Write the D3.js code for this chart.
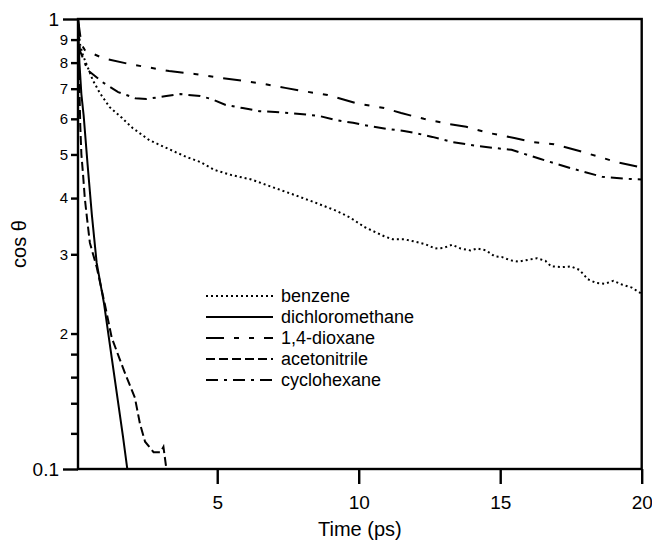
<!DOCTYPE html>
<html>
<head>
<meta charset="utf-8">
<script src="https://cdn.jsdelivr.net/npm/d3@7"></script>
<style>
	body { margin: 0; background: #fff; }
	text { font-family: Arial, "Liberation Sans", sans-serif; fill: #000; }
	.axis .domain { display: none; }
	.axis line { stroke: #000; stroke-width: 2.4; }
	.curve { fill: none; stroke: #000; stroke-width: 2; }
</style>
</head>
<body>
<div class="chart"></div>
<script>
// ---- data: time (ps) and cos theta ----
const benzeneT = [0.08, 0.14, 0.25, 0.42, 0.6, 0.85, 1.2, 1.63, 2.0, 2.6, 3.2, 3.9, 4.4, 4.9, 5.5, 6.2, 7.0, 7.8, 8.5, 9.2, 9.7, 10.2, 10.9, 11.2, 11.6, 12.0, 12.35, 12.7, 13.0, 13.3, 13.6, 13.95, 14.2, 14.5, 14.8, 15.05, 15.35, 15.65, 15.9, 16.3, 16.6, 16.8, 17.2, 17.5, 17.8, 18.1, 18.4, 18.7, 19.0, 19.3, 19.65, 20.0];
const benzeneV = [1.0, 0.885, 0.832, 0.782, 0.732, 0.685, 0.637, 0.603, 0.573, 0.538, 0.517, 0.494, 0.481, 0.462, 0.45, 0.44, 0.422, 0.405, 0.39, 0.375, 0.362, 0.345, 0.329, 0.324, 0.324, 0.32, 0.316, 0.309, 0.31, 0.315, 0.309, 0.306, 0.309, 0.306, 0.297, 0.296, 0.291, 0.289, 0.291, 0.294, 0.29, 0.282, 0.281, 0.282, 0.277, 0.264, 0.259, 0.258, 0.262, 0.257, 0.253, 0.245];

const dcmT = [0.08, 0.13, 0.2, 0.28, 0.42, 0.57, 0.74, 1.0, 1.27, 1.67, 1.85];
const dcmV = [1.0, 0.8, 0.68, 0.61, 0.474, 0.367, 0.287, 0.233, 0.177, 0.118, 0.097];

const dioxaneT = [0.08, 0.2, 0.32, 0.95, 1.9, 2.7, 3.3, 4.2, 5.1, 5.7, 6.5, 7.4, 8.0, 8.9, 9.9, 10.9, 11.5, 12.3, 13.2, 13.8, 14.6, 15.5, 16.1, 16.9, 17.8, 18.4, 19.1, 19.9, 20.0];
const dioxaneV = [1.0, 0.88, 0.853, 0.819, 0.794, 0.778, 0.766, 0.755, 0.74, 0.732, 0.72, 0.703, 0.692, 0.678, 0.65, 0.634, 0.618, 0.6, 0.584, 0.576, 0.558, 0.544, 0.533, 0.527, 0.509, 0.496, 0.481, 0.469, 0.468];

const acetoT = [0.08, 0.12, 0.16, 0.2, 0.26, 0.32, 0.4, 0.5, 0.74, 1.03, 1.27, 1.56, 1.73, 2.09, 2.27, 2.45, 2.75, 3.0, 3.1, 3.25];
const acetoV = [1.0, 0.75, 0.58, 0.5, 0.45, 0.4, 0.36, 0.318, 0.281, 0.232, 0.196, 0.175, 0.164, 0.144, 0.126, 0.115, 0.109, 0.109, 0.112, 0.095];

const cycloT = [0.08, 0.15, 0.42, 1.0, 1.5, 2.1, 2.5, 3.2, 3.7, 4.4, 4.8, 5.3, 5.9, 6.5, 7.6, 8.6, 9.2, 9.8, 10.4, 11.0, 11.6, 12.0, 12.6, 13.3, 14.2, 15.4, 16.4, 17.5, 18.6, 19.6, 20.0];
const cycloV = [1.0, 0.85, 0.77, 0.72, 0.688, 0.667, 0.664, 0.674, 0.681, 0.674, 0.664, 0.644, 0.634, 0.624, 0.618, 0.609, 0.596, 0.588, 0.578, 0.57, 0.564, 0.558, 0.547, 0.533, 0.522, 0.512, 0.489, 0.466, 0.446, 0.441, 0.44];

const seriesNames = ['benzene', 'dichloromethane', '1,4-dioxane', 'acetonitrile', 'cyclohexane'];
const seriesT = [benzeneT, dcmT, dioxaneT, acetoT, cycloT];
const seriesV = [benzeneV, dcmV, dioxaneV, acetoV, cycloV];
const dashes = ['2,3', null, '18,10,5,10,5,10', '9,4', '12,6,3,6'];

const xTicks = [5, 10, 15, 20];
const yMajor = [0.1, 1];
const yMinor = [0.12, 0.14, 0.16, 0.18, 0.2, 0.3, 0.4, 0.5, 0.6, 0.7, 0.8, 0.9];
const yMinorLabels = ['', '', '', '', '2', '3', '4', '5', '6', '7', '8', '9'];

const outerW = 652,
	outerH = 542;

const margin = { left: 78, right: 10.3, top: 19, bottom: 73 };
const w = outerW - margin.left - margin.right,
	h = outerH - margin.top - margin.bottom;

const x = d3.scaleLinear().domain([0.08, 20]).range([0, w]);
const y = d3.scaleLog().domain([0.1, 1]).range([h, 0]);

const svg = d3.select('.chart').append('svg')
	.attr('width', outerW)
	.attr('height', outerH);

const g = svg.append('g')
	.attr('transform', `translate(${margin.left}, ${margin.top})`);

g.append('clipPath').attr('id', 'clip')
	.append('rect').attr('width', w).attr('height', h);

// curves
const line = d3.line()
	.x(d => x(d[0]))
	.y(d => y(d[1]));

g.append('g').attr('clip-path', 'url(#clip)')
	.selectAll('.curve')
	.data(seriesNames)
	.enter().append('path')
	.attr('class', 'curve')
	.attr('stroke-dasharray', (d, i) => dashes[i])
	.attr('d', (d, i) => line(seriesT[i].map((t, j) => [t, seriesV[i][j]])));

// y axis: minor ticks
const yMinorAxis = g.append('g')
	.attr('class', 'axis')
	.call(d3.axisLeft(y)
		.tickValues(yMinor)
		.tickSize(7)
		.tickPadding(3)
		.tickFormat((d, i) => yMinorLabels[i])
	);
yMinorAxis.selectAll('text').style('font-size', '15px');

// y axis: major ticks (0.1 and 1)
const yMajorAxis = g.append('g')
	.attr('class', 'axis')
	.call(d3.axisLeft(y)
		.tickValues(yMajor)
		.tickSize(15)
		.tickPadding(4)
		.tickFormat(d => d === 1 ? '1' : '0.1')
	);
yMajorAxis.selectAll('text').style('font-size', '19px');

// x axis
const xAxis = g.append('g')
	.attr('class', 'axis')
	.attr('transform', `translate(0, ${h})`)
	.call(d3.axisBottom(x)
		.tickValues(xTicks)
		.tickSize(15)
		.tickPadding(12)
	);
xAxis.selectAll('text').style('font-size', '19px');

// frame
g.append('rect')
	.attr('width', w)
	.attr('height', h)
	.attr('fill', 'none')
	.attr('stroke', '#000')
	.attr('stroke-width', 2.4);

// axis titles
svg.append('text')
	.attr('transform', `translate(26, ${margin.top + h / 2}) rotate(-90)`)
	.attr('text-anchor', 'middle')
	.style('font-size', '20px')
	.text('cos θ');

svg.append('text')
	.attr('x', margin.left + w / 2)
	.attr('y', 536)
	.attr('text-anchor', 'middle')
	.style('font-size', '20px')
	.text('Time (ps)');

// legend
const legend = g.append('g')
	.attr('transform', 'translate(128, 277)');

const rows = legend.selectAll('.legend-row')
	.data(seriesNames)
	.enter().append('g')
	.attr('class', 'legend-row')
	.attr('transform', (d, i) => `translate(0, ${i * 21})`);

rows.append('line')
	.attr('class', 'curve')
	.attr('x1', 0)
	.attr('x2', 67)
	.attr('stroke-dasharray', (d, i) => dashes[i]);

rows.append('text')
	.attr('x', 75)
	.attr('dy', '0.35em')
	.style('font-size', '18px')
	.text(d => d);
</script>
</body>
</html>
